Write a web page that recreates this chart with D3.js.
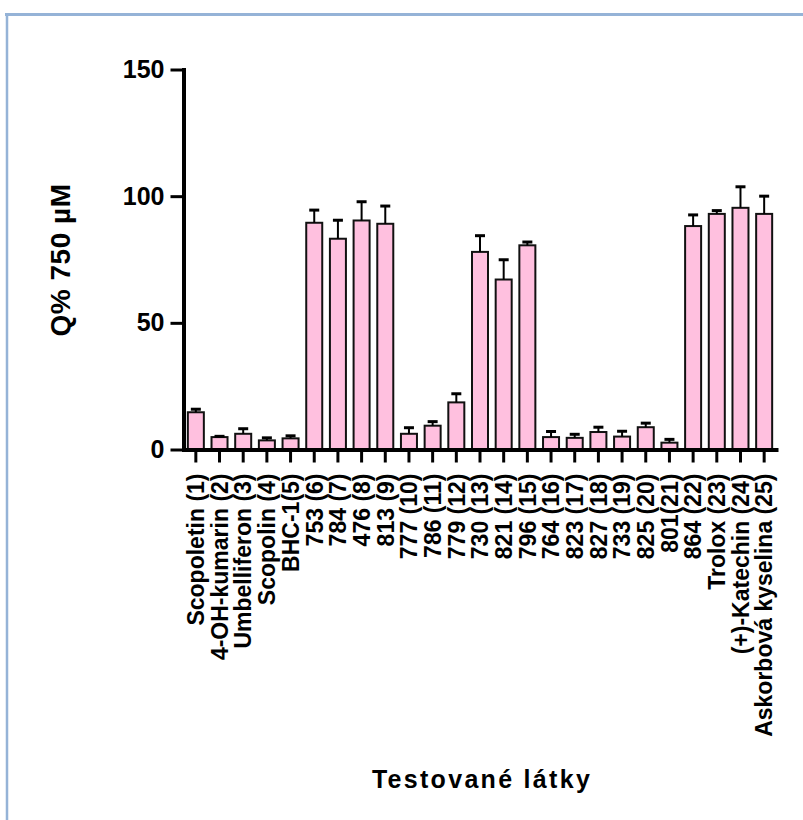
<!DOCTYPE html>
<html>
<head>
<meta charset="utf-8">
<script src="https://cdn.jsdelivr.net/npm/d3@7"></script>
<style>
  body { margin: 0; background: #fff; }
  text { font-family: "Liberation Sans", Arial, sans-serif; font-weight: bold; }
</style>
</head>
<body>
<div id="chart"></div>
<script>
// data
let labels = ["Scopoletin (1)", "4-OH-kumarin (2)", "Umbelliferon (3)", "Scopolin (4)", "BHC-1(5)",
  "753 (6)", "784 (7)", "476 (8)", "813 (9)", "777 (10)", "786 (11)", "779 (12)", "730 (13)",
  "821 (14)", "796 (15)", "764 (16)", "823 (17)", "827 (18)", "733 (19)", "825 (20)", "801(21)",
  "864 (22)", "Trolox (23)", "(+)-Katechin (24)", "Askorbová kyselina (25)"];
let means = [14.7, 4.9, 6.2, 3.6, 4.4, 89.5, 83.2, 90.4, 89.1, 6.2, 9.4, 18.6, 78.0,
  67.1, 80.6, 4.9, 4.6, 6.9, 5.1, 8.8, 2.7, 88.2, 93.0, 95.4, 93.0];
let errs = [1.2, 0.3, 2.0, 1.0, 1.0, 5.0, 7.3, 7.4, 7.0, 2.4, 1.6, 3.4, 6.4,
  7.8, 1.3, 2.2, 1.4, 1.9, 2.1, 1.6, 1.3, 4.4, 1.3, 8.3, 7.0];
let yTicks = [0, 50, 100, 150];

let W = 803, H = 820;
let svg = d3.select("#chart").append("svg")
  .attr("width", W)
  .attr("height", H);

// frame lines
svg.append("line").attr("x1", 5).attr("x2", W).attr("y1", 14.5).attr("y2", 14.5)
  .attr("stroke", "#95b3d7").attr("stroke-width", 3);
svg.append("line").attr("x1", 7).attr("x2", 7).attr("y1", 13).attr("y2", H)
  .attr("stroke", "#95b3d7").attr("stroke-width", 2.5);

// scales
let x = d3.scaleBand()
  .domain(labels)
  .range([184, 776])
  .paddingInner(0.324)
  .paddingOuter(0.162);
let y = d3.scaleLinear()
  .domain([0, 150])
  .range([449.5, 69.5]);

// bars
svg.append("g").selectAll("rect").data(means).join("rect")
  .attr("x", (d, i) => x(labels[i]))
  .attr("y", d => y(d))
  .attr("width", x.bandwidth())
  .attr("height", d => y(0) - y(d))
  .attr("fill", "#ffc0df")
  .attr("stroke", "#111")
  .attr("stroke-width", 2);

// error bars (upper only)
let errGrp = svg.append("g");
errGrp.selectAll("line.v").data(means).join("line")
  .attr("class", "v")
  .attr("x1", (d, i) => x(labels[i]) + x.bandwidth() / 2)
  .attr("x2", (d, i) => x(labels[i]) + x.bandwidth() / 2)
  .attr("y1", d => y(d))
  .attr("y2", (d, i) => y(d + errs[i]))
  .attr("stroke", "#000")
  .attr("stroke-width", 2);
errGrp.selectAll("line.c").data(means).join("line")
  .attr("class", "c")
  .attr("x1", (d, i) => x(labels[i]) + x.bandwidth() / 2 - 5)
  .attr("x2", (d, i) => x(labels[i]) + x.bandwidth() / 2 + 5)
  .attr("y1", (d, i) => y(d + errs[i]))
  .attr("y2", (d, i) => y(d + errs[i]))
  .attr("stroke", "#000")
  .attr("stroke-width", 3);

// y axis
let yAxis = svg.append("g")
  .attr("transform", "translate(183.5,0)")
  .call(d3.axisLeft(y).tickValues(yTicks).tickSize(13).tickSizeOuter(0).tickPadding(6));
yAxis.select(".domain").attr("stroke-width", 4).attr("stroke-linecap", "square");
yAxis.selectAll(".tick line").attr("stroke-width", 3);
yAxis.selectAll(".tick text")
  .style("font-size", "25px")
  .attr("fill", "#000");

// x axis
let xAxis = svg.append("g")
  .attr("transform", "translate(0,449.5)")
  .call(d3.axisBottom(x).tickSize(13).tickSizeOuter(0));
xAxis.select(".domain").attr("stroke-width", 4).attr("stroke-linecap", "square");
xAxis.selectAll(".tick line").attr("stroke-width", 3);
xAxis.selectAll(".tick text")
  .attr("transform", "rotate(-90)")
  .attr("x", -24)
  .attr("y", 0)
  .attr("dy", "0.36em")
  .style("text-anchor", "end")
  .style("font-size", "23px")
  .attr("fill", "#000");

// axis titles
svg.append("text")
  .attr("transform", "translate(70,260) rotate(-90)")
  .style("text-anchor", "middle")
  .style("font-size", "28px")
  .style("letter-spacing", "0.5px")
  .text("Q% 750 µM");
svg.append("text")
  .attr("x", 482)
  .attr("y", 788)
  .style("text-anchor", "middle")
  .style("font-size", "25px")
  .style("letter-spacing", "2.3px")
  .text("Testované látky");
</script>
</body>
</html>
